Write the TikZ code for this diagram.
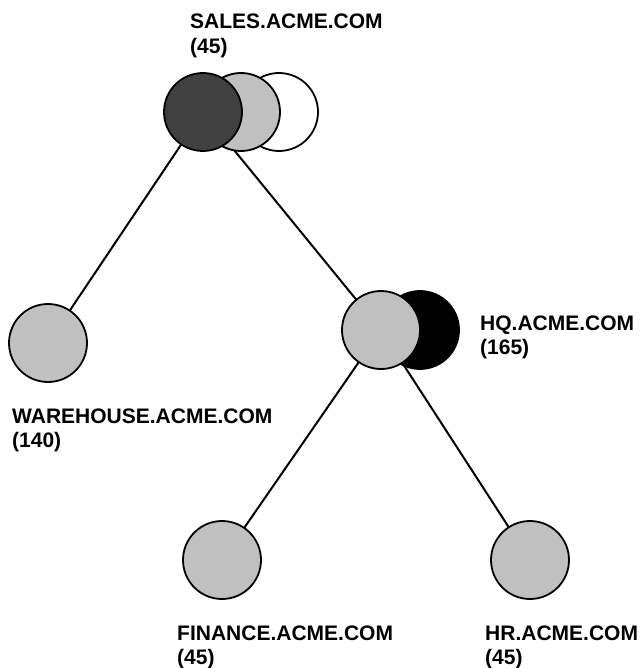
\documentclass[tikz,border=0pt]{standalone}
\usepackage{fontspec}
\setmainfont{Liberation Sans}
\definecolor{lgray}{HTML}{C0C0C0}
\definecolor{dgray}{HTML}{404040}
\begin{document}
\begin{tikzpicture}[x=1pt,y=-1pt,
  disk/.style={circle,draw=black,line width=1.8pt,minimum size=78pt,inner sep=0pt},
  link/.style={draw=black,line width=2pt},
  lbl/.style={anchor=base west,inner sep=0pt,align=left,font=\bfseries\fontsize{21}{24.5}\selectfont}]
\useasboundingbox (0,0) rectangle (640,668);
% links first (behind disks)
\coordinate (sc) at (203,112);
\coordinate (hc) at (381,330);
\coordinate (wc) at (48,343);
\coordinate (fc) at (222,560);
\coordinate (rc) at (530,560);
\draw[link] (sc) -- (wc);
\draw[link] (sc) -- (hc);
\draw[link] (hc) -- (fc);
\draw[link] (hc) -- (rc);
% disks
\node[disk,fill=white] (s3) at (279,112) {};
\node[disk,fill=lgray] (s2) at (241,112) {};
\node[disk,fill=dgray] (s1) at (sc) {};
\node[disk,fill=black] (h2) at (420,330) {};
\node[disk,fill=lgray] (h1) at (hc) {};
\node[disk,fill=lgray] (w) at (wc) {};
\node[disk,fill=lgray] (f) at (fc) {};
\node[disk,fill=lgray] (r) at (rc) {};
% labels (anchored at baseline of last line)
\node[lbl] (ls) at (190,53.5) {SALES.ACME.COM\\(45)};
\node[lbl] (lh) at (480,354.5) {HQ.ACME.COM\\(165)};
\node[lbl] (lw) at (12,447.5) {WAREHOUSE.ACME.COM\\(140)};
\node[lbl] (lf) at (177,664.5) {FINANCE.ACME.COM\\(45)};
\node[lbl] (lr) at (485,664.5) {HR.ACME.COM\\(45)};
\end{tikzpicture}
\end{document}
